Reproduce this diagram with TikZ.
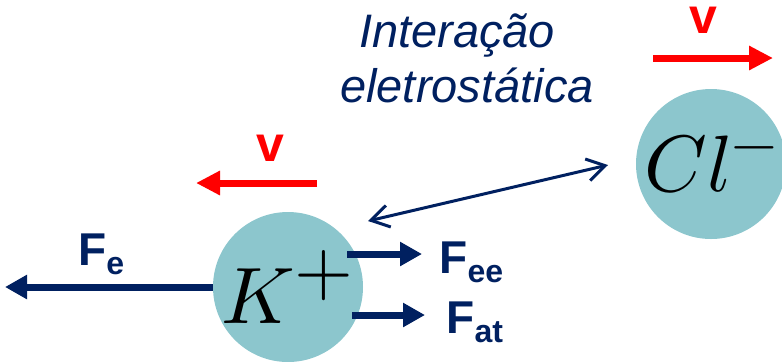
\documentclass[tikz,border=0pt]{standalone}
\usepackage{graphicx}
\usepackage{fontspec}
\usepackage{unicode-math}
\setmainfont{Liberation Sans}
\usetikzlibrary{arrows.meta}

\definecolor{azulescuro}{HTML}{002060}
\definecolor{vermelho}{HTML}{FF0000}
\definecolor{corion}{HTML}{8CC6CD}

% rotulo de forca: F com indice em negrito
\newcommand{\forca}[1]{F\raisebox{-4.5pt}{\fontsize{16}{16}\selectfont\bfseries #1}}
% carga do ion, um pouco maior
\newcommand{\carga}[2][1.35]{\scalebox{#1}{$\scriptstyle #2$}}

\tikzset{
  ion/.style={circle, fill=corion, minimum size=75pt, inner sep=0pt, font=\fontsize{40}{40}\selectfont},
  seta forca/.style={azulescuro, line width=3.5pt, -{Triangle[length=11pt,width=11.5pt]}},
  seta vel/.style={vermelho, line width=3.5pt, -{Triangle[length=12pt,width=11.5pt]}},
  rotulo/.style={azulescuro, font=\fontsize{23}{23}\selectfont\bfseries, anchor=base west, inner sep=0pt},
  velrot/.style={vermelho, font=\fontsize{25}{25}\selectfont\bfseries, anchor=base, inner sep=0pt},
  texto/.style={azulescuro, font=\fontsize{23.5}{23.5}\selectfont\itshape, anchor=base, inner sep=0pt},
}

\begin{document}
\begin{tikzpicture}[x=0.5pt, y=-0.5pt]
  \useasboundingbox (0,0) rectangle (782,361);

  % ions
  \node[ion] (K) at (288,287) {\makebox[0pt]{$K^{\carga{+}}$}};
  \node[ion] (Cl) at (711,164) {\makebox[0pt]{$Cl^{\carga[1.05]{-}}$}};

  % interacao eletrostatica
  \node[texto] (int1) at (457,47) {Interação};
  \node[texto] (int2) at (467,102) {eletrostática};
  \coordinate (ia) at (368,221);
  \coordinate (ib) at (608,165);
  \draw[azulescuro, line width=1.5pt, {Straight Barb[length=9pt,width=11pt]}-{Straight Barb[length=9pt,width=11pt]}] (ia) -- (ib);

  % velocidades
  \coordinate (vk1) at (317,183);
  \coordinate (vk2) at (196,183);
  \draw[seta vel] (vk1) -- (vk2);
  \node[velrot] (vk) at (270,161) {v};
  \coordinate (vc1) at (653,58);
  \coordinate (vc2) at (773,58);
  \draw[seta vel] (vc1) -- (vc2);
  \node[velrot] (vc) at (703,33) {v};

  % forcas sobre o K+
  \coordinate (fe) at (5,287);
  \draw[seta forca] (K.west) -- (fe);
  \node[rotulo] (lfe) at (78,265) {\forca{e}};
  \coordinate (fee1) at (347,254);
  \coordinate (fee2) at (422,254);
  \draw[seta forca] (fee1) -- (fee2);
  \node[rotulo] (lfee) at (439,273) {\forca{ee}};
  \coordinate (fat1) at (352,315);
  \coordinate (fat2) at (425,315);
  \draw[seta forca] (fat1) -- (fat2);
  \node[rotulo] (lfat) at (446,333) {\forca{at}};
\end{tikzpicture}
\end{document}
